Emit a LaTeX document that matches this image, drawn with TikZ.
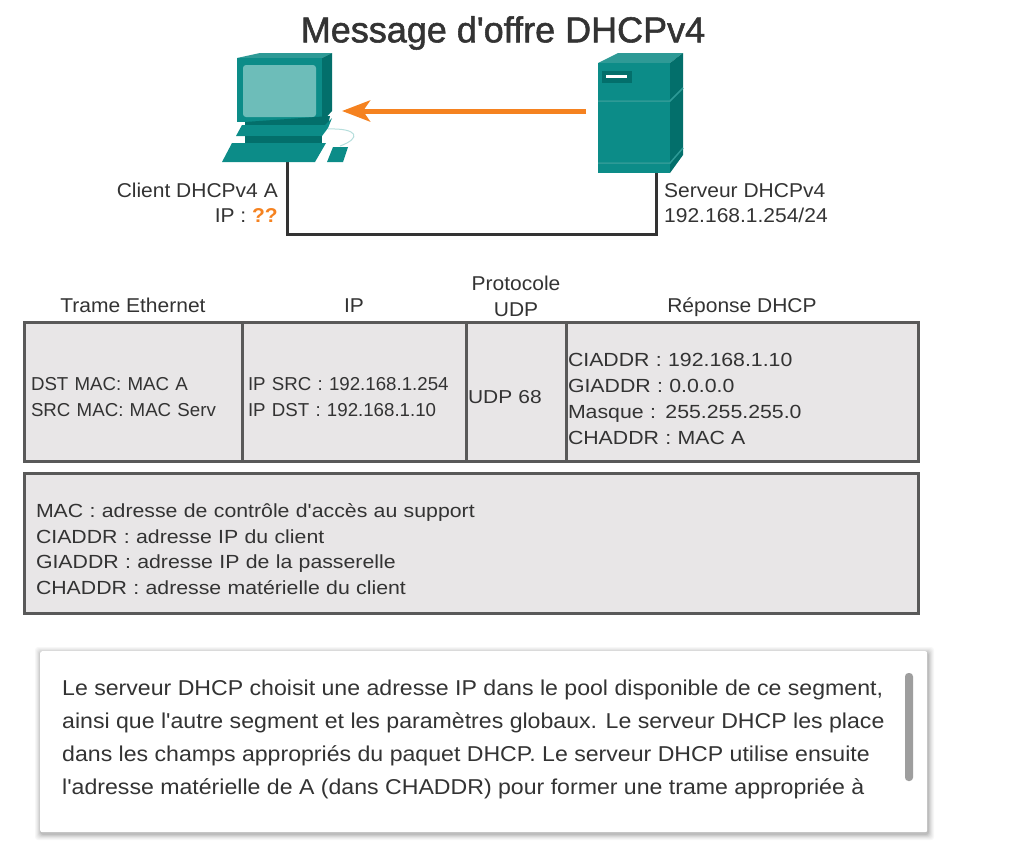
\documentclass[tikz,border=0pt]{standalone}
\usepackage{fontspec}
\setmainfont{Liberation Sans}
\newfontfamily\titlefont[FakeBold=1.5]{Liberation Sans}
\newfontfamily\labelfont[FakeStretch=1.05]{Liberation Sans}
\newfontfamily\widefont[FakeStretch=1.12]{Liberation Sans}
\newfontfamily\panelfont[FakeStretch=1.075]{Liberation Sans}
\usepackage{tikz}
\usetikzlibrary{arrows.meta,positioning}

\definecolor{tealfront}{HTML}{0C8C88}
\definecolor{tealside}{HTML}{036F6B}
\definecolor{tealscreen}{HTML}{6DBDB9}
\definecolor{tealtop}{HTML}{2E9A96}
\definecolor{cellfill}{HTML}{E8E6E7}
\definecolor{cellline}{HTML}{595959}
\definecolor{inkdark}{HTML}{333333}
\definecolor{offerorange}{HTML}{F58220}

\newcommand{\lowerby}[1]{\rule{0pt}{#1}}

\begin{document}
\begin{tikzpicture}[x=1pt,y=-1pt,
		every node/.style={text=inkdark},
		cell/.style={rectangle,draw=cellline,fill=cellfill,line width=3pt,outer sep=0pt,inner sep=0pt,anchor=north west,minimum height=139pt},
		celltext/.style={cell,align=left,inner xsep=6pt},
		header/.style={font=\labelfont\fontsize{20}{26}\selectfont,align=center,inner sep=0pt},
		machine/.style={font=\labelfont\fontsize{20}{25}\selectfont,inner sep=0pt},
		wire/.style={draw=inkdark,line width=3pt},
		offer/.style={draw=offerorange,line width=5pt,-{Stealth[length=28pt,width=21pt,inset=7pt]}}]

	\useasboundingbox (0,0) rectangle (1016,844);

	% title
	\node[font=\titlefont\fontsize{36}{40}\selectfont] (title) at (503,33) {Message d'offre DHCPv4};

	% wire between the two machines
	\coordinate (pcfoot) at (287,160);
	\coordinate (srvfoot) at (656,170);
	\draw[wire] (pcfoot) -- ++(0,74) -| (srvfoot);

	% client
	\fill[tealtop] (237,58) -- (260,53) -- (332,53) -- (322,58) -- cycle;
	\fill[tealside] (322,58) -- (332,53) -- (332,111) -- (322,122) -- cycle;
	\fill[tealfront] (237,58) rectangle (322,122);
	\fill[tealscreen,rounded corners=3pt] (243,65) rectangle (316,117);
	\fill[tealside] (245,122) -- (330,116) -- (328,126) -- (245,126) -- cycle;
	\fill[tealfront] (236,136) -- (242,125) -- (325,125) -- (332,118) -- (328,128) -- (322,136) -- cycle;
	\fill[tealside] (245,136) rectangle (322,143);
	\fill[tealfront] (222,162) -- (232,143) -- (326,143) -- (315,162) -- cycle;
	\fill[tealfront] (327,162) -- (333,147) -- (348,147) -- (343,162) -- cycle;
	\draw[tealscreen!50,line width=1pt] (328,129) .. controls (358,128) and (362,138) .. (340,146);

	% server
	\fill[tealtop] (598,63) -- (618,53) -- (683,53) -- (670,63) -- cycle;
	\fill[tealside] (670,63) -- (683,53) -- (683,155) -- (670,173) -- cycle;
	\fill[tealfront] (598,63) rectangle (670,173);
	\draw[tealtop,line width=1.5pt] (598,101) -- (670,101) -- (683,88);
	\draw[tealtop,line width=1.5pt] (598,163) -- (670,163) -- (683,148);
	\fill[tealside] (602,71) rectangle (632,83);
	\fill[white] (606,75) rectangle (627,78);

	% offer arrow
	\coordinate (srvside) at (586,111);
	\coordinate (pcside) at (342,111);
	\draw[offer] (srvside) -- (pcside);

	% machine labels
	\node[machine,align=right,anchor=north east] (clientlabel) at (278,183)
		{Client DHCPv4 A\\IP : \textcolor{offerorange}{\textbf{??}}};
	\node[machine,align=left,anchor=north west] (serverlabel) at (664,183)
		{Serveur DHCPv4\\192.168.1.254/24};

	% frame
	\node[celltext,minimum width=218pt,text width=204pt,inner xsep=7pt,font=\fontsize{18.7}{26}\selectfont] (ethcell) at (24,322)
		{\lowerby{25pt}DST MAC: MAC A\\SRC MAC: MAC Serv};
	\node[celltext,minimum width=224pt,text width=212pt,font=\fontsize{18.7}{26}\selectfont] (ipcell) [right=0pt of ethcell]
		{\lowerby{25pt}IP SRC : 192.168.1.254\\IP DST : 192.168.1.10};
	\node[celltext,minimum width=100pt,text width=96pt,inner xsep=2pt,font=\widefont\fontsize{18.7}{26}\selectfont] (udpcell) [right=0pt of ipcell]
		{\lowerby{24pt}UDP 68};
	\node[celltext,minimum width=352pt,text width=348pt,inner xsep=2pt,font=\widefont\fontsize{19}{26}\selectfont] (dhcpcell) [right=0pt of udpcell]
		{\lowerby{29pt}CIADDR : 192.168.1.10\\GIADDR : 0.0.0.0\\Masque : 255.255.255.0\\CHADDR : MAC A};

	% frame headers
	\node[header,above=9pt of ethcell] (ethhead) {Trame Ethernet};
	\node[header,above=9pt of ipcell] (iphead) {IP};
	\node[header,above=5pt of udpcell] (udphead) {Protocole\\UDP};
	\node[header,above=5pt of dhcpcell] (dhcphead) {Réponse DHCP};

	% glossary
	\node[celltext,minimum width=894pt,text width=870pt,inner xsep=12pt,minimum height=140pt,font=\widefont\fontsize{19}{25.7}\selectfont] (glossary) at (24,473)
		{\lowerby{26pt}MAC : adresse de contrôle d'accès au support\\CIADDR : adresse IP du client\\GIADDR : adresse IP de la passerelle\\CHADDR : adresse matérielle du client};

	% text panel with its shadow
	\foreach \spread/\shade in {6/3,5/3,4/4,3/5,2/6,1/8}
		\fill[black,opacity=\shade/100,rounded corners=3pt] (40-\spread+1,651-\spread+2) rectangle (927+\spread+1,832+\spread+2);
	\node[rectangle,fill=white,rounded corners=2pt,anchor=north west,minimum width=887pt,minimum height=181pt,inner sep=0pt] (panel) at (40,651) {};
	\node[anchor=north west,align=left,inner sep=0pt,font=\panelfont\fontsize{21.5}{33}\selectfont] (paneltext) at (62,680)
		{Le serveur DHCP choisit une adresse IP dans le pool disponible de ce segment,\\
		ainsi que l'autre segment et les paramètres globaux. Le serveur DHCP les place\\
		dans les champs appropriés du paquet DHCP. Le serveur DHCP utilise ensuite\\
		l'adresse matérielle de A (dans CHADDR) pour former une trame appropriée à};
	\fill[black!38,rounded corners=3.5pt] (905,673) rectangle (913,781);
\end{tikzpicture}
\end{document}
